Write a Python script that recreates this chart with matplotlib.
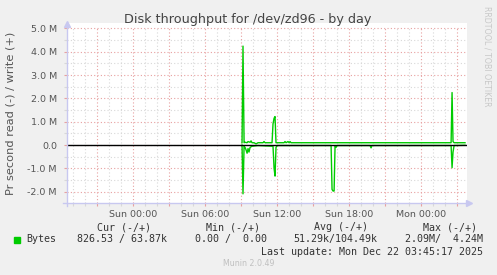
import matplotlib
matplotlib.use("Agg")
import matplotlib.pyplot as plt

# hours relative to Sun 00:00, values in MB/s
write_hours = [9.11, 9.19, 9.28, 9.36, 9.53, 9.61, 9.78, 9.86, 9.94, 10.11, 10.28, 10.44,
               10.86, 10.94, 11.03, 11.61, 11.69, 11.78, 11.86, 11.94, 12.61, 12.69, 12.78,
               12.94, 13.03, 13.11, 13.19, 26.53, 26.61, 26.69, 26.78, 27.69]
write_vals = [0.10, 4.24, 0.10, 0.12, 0.10, 0.15, 0.12, 0.18, 0.10, 0.10, 0.05, 0.10,
              0.10, 0.15, 0.10, 0.10, 0.90, 1.15, 1.22, 0.10, 0.10, 0.15, 0.10,
              0.15, 0.10, 0.15, 0.10, 0.10, 2.25, 0.15, 0.10, 0.10]

read_hours = [9.11, 9.19, 9.28, 9.36, 9.44, 9.53, 9.61, 9.69, 9.78, 9.94, 10.44, 11.69,
              11.78, 11.86, 11.94, 12.03, 16.53, 16.61, 16.69, 16.78, 16.86, 16.94, 17.03,
              19.78, 19.86, 19.94, 26.53, 26.61, 26.69, 26.78, 27.69]
read_vals = [0.00, 2.09, 0.05, 0.10, 0.20, 0.35, 0.15, 0.30, 0.10, 0.05, 0.02, 0.05,
             1.00, 1.33, 0.10, 0.02, 0.02, 1.90, 1.97, 1.97, 0.05, 0.10, 0.02,
             0.02, 0.12, 0.02, 0.02, 0.97, 0.30, 0.02, 0.01]

x_labels = {0: "Sun 00:00", 6: "Sun 06:00", 12: "Sun 12:00", 18: "Sun 18:00", 24: "Mon 00:00"}
y_labels = {5: "5.0 M", 4: "4.0 M", 3: "3.0 M", 2: "2.0 M", 1: "1.0 M", 0: "0.0",
            -1: "-1.0 M", -2: "-2.0 M"}

legend_head = ["Cur (-/+)", "Min (-/+)", "Avg (-/+)", "Max (-/+)"]
legend_vals = ["826.53 / 63.87k", "0.00 /  0.00", "51.29k/104.49k", "2.09M/  4.24M"]

W, H = 497, 275
BG = "#F0F0F0"
GREEN = "#00CC00"
MAJOR = "#E8A0A0"
MINOR = "#D8D8D8"
AXIS = "#C8C8F0"
TXT = "#555555"

def fx(px):
    return px / W

def fy(py):
    return 1 - py / H

fig = plt.figure(figsize=(W / 100, H / 100), dpi=100, facecolor=BG)
ax = fig.add_axes([fx(66.7), fy(202.7), 400 / W, (202.7 - 23) / H], facecolor="white")

x0, x1 = -5.5, 27.83
y0, y1 = -2.47, 5.23
ax.set_xlim(x0, x1)
ax.set_ylim(y0, y1)
for s in ax.spines.values():
    s.set_visible(False)

# grid
for h in range(-5, 28):
    major = h % 3 == 0
    ax.plot([h, h], [y0, 5.0], color=MAJOR if major else MINOR,
            lw=0.8, ls=(0, (1, 2)), zorder=1)
for i in range(-4, 11):
    v = i / 2
    major = i % 2 == 0
    ax.plot([x0, x1], [v, v], color=MAJOR if major else MINOR,
            lw=0.8, ls=(0, (1, 2)), zorder=1)

# data
ax.plot(write_hours, write_vals, color=GREEN, lw=1.0, zorder=3)
ax.plot(read_hours, [-v for v in read_vals], color=GREEN, lw=1.0, zorder=3)
ax.plot([x0, x1], [0, 0], color="black", lw=1.0, zorder=4)

# axes lines with arrows
ax.plot([x0, x0], [y0 - 0.15, y1 - 0.05], color=AXIS, lw=1.0, clip_on=False, zorder=5)
ax.plot([x0], [y1 - 0.05], marker="^", ms=5, color=AXIS, clip_on=False, zorder=5)
ax.plot([x0 - 0.3, x1 + 0.1], [y0, y0], color=AXIS, lw=1.0, clip_on=False, zorder=5)
ax.plot([x1 + 0.2], [y0], marker=">", ms=5, color=AXIS, clip_on=False, zorder=5)

# ticks
major_x = list(range(-3, 28, 3))
ax.set_xticks(major_x)
ax.set_xticklabels([x_labels.get(h, "") for h in major_x])
ax.set_xticks(range(-5, 28), minor=True)
ax.tick_params(axis="x", which="major", length=2, width=0.8, color=MAJOR,
               labelcolor=TXT, labelsize=6.8, pad=3)
ax.tick_params(axis="x", which="minor", length=2, width=0.8, color=MINOR)
ax.set_yticks(list(y_labels.keys()))
ax.set_yticklabels(list(y_labels.values()))
ax.set_yticks([i / 2 for i in range(-4, 11) if i % 2], minor=True)
ax.tick_params(axis="y", which="major", length=2, width=0.8, color=MAJOR,
               labelcolor=TXT, labelsize=6.8, pad=5)
ax.tick_params(axis="y", which="minor", length=2, width=0.8, color=MINOR)

# texts
fig.text(fx(247.7), fy(19.5), "Disk throughput for /dev/zd96 - by day",
         ha="center", va="center", fontsize=9.2, color="#444444")
fig.text(fx(11), fy(113.4), "Pr second read (-) / write (+)", rotation=90,
         ha="center", va="center", fontsize=8.2, color=TXT)
fig.text(fx(487), fy(56), "RRDTOOL / TOBI OETIKER", rotation=270,
         ha="center", va="center", fontsize=5.7, color="#C8C8C8")

mono = "DejaVu Sans Mono"
head_right = [151, 260, 368.3, 476.7]
for t, xr in zip(legend_head, head_right):
    fig.text(fx(xr), fy(227.3), t, ha="right", va="center", fontsize=7.2,
             family=mono, color="#333333")
val_right = [166.7, 266.7, 377.7, 483.3]
for t, xr in zip(legend_vals, val_right):
    fig.text(fx(xr), fy(239.3), t, ha="right", va="center", fontsize=7.2,
             family=mono, color="#333333")
fig.patches.append(plt.Rectangle((fx(14), fy(242.7)), 6 / W, 5.4 / H,
                                 transform=fig.transFigure, color=GREEN))
fig.text(fx(26.7), fy(239.3), "Bytes", ha="left", va="center", fontsize=7.2,
         family=mono, color="#333333")
fig.text(fx(482.7), fy(251.7), "Last update: Mon Dec 22 03:45:17 2025", ha="right",
         va="center", fontsize=7.2, family=mono, color="#333333")
fig.text(fx(248.8), fy(263.5), "Munin 2.0.49", ha="center", va="center",
         fontsize=5.7, color="#C0C0C0")

fig.savefig("out.png", dpi=100, facecolor=BG)
